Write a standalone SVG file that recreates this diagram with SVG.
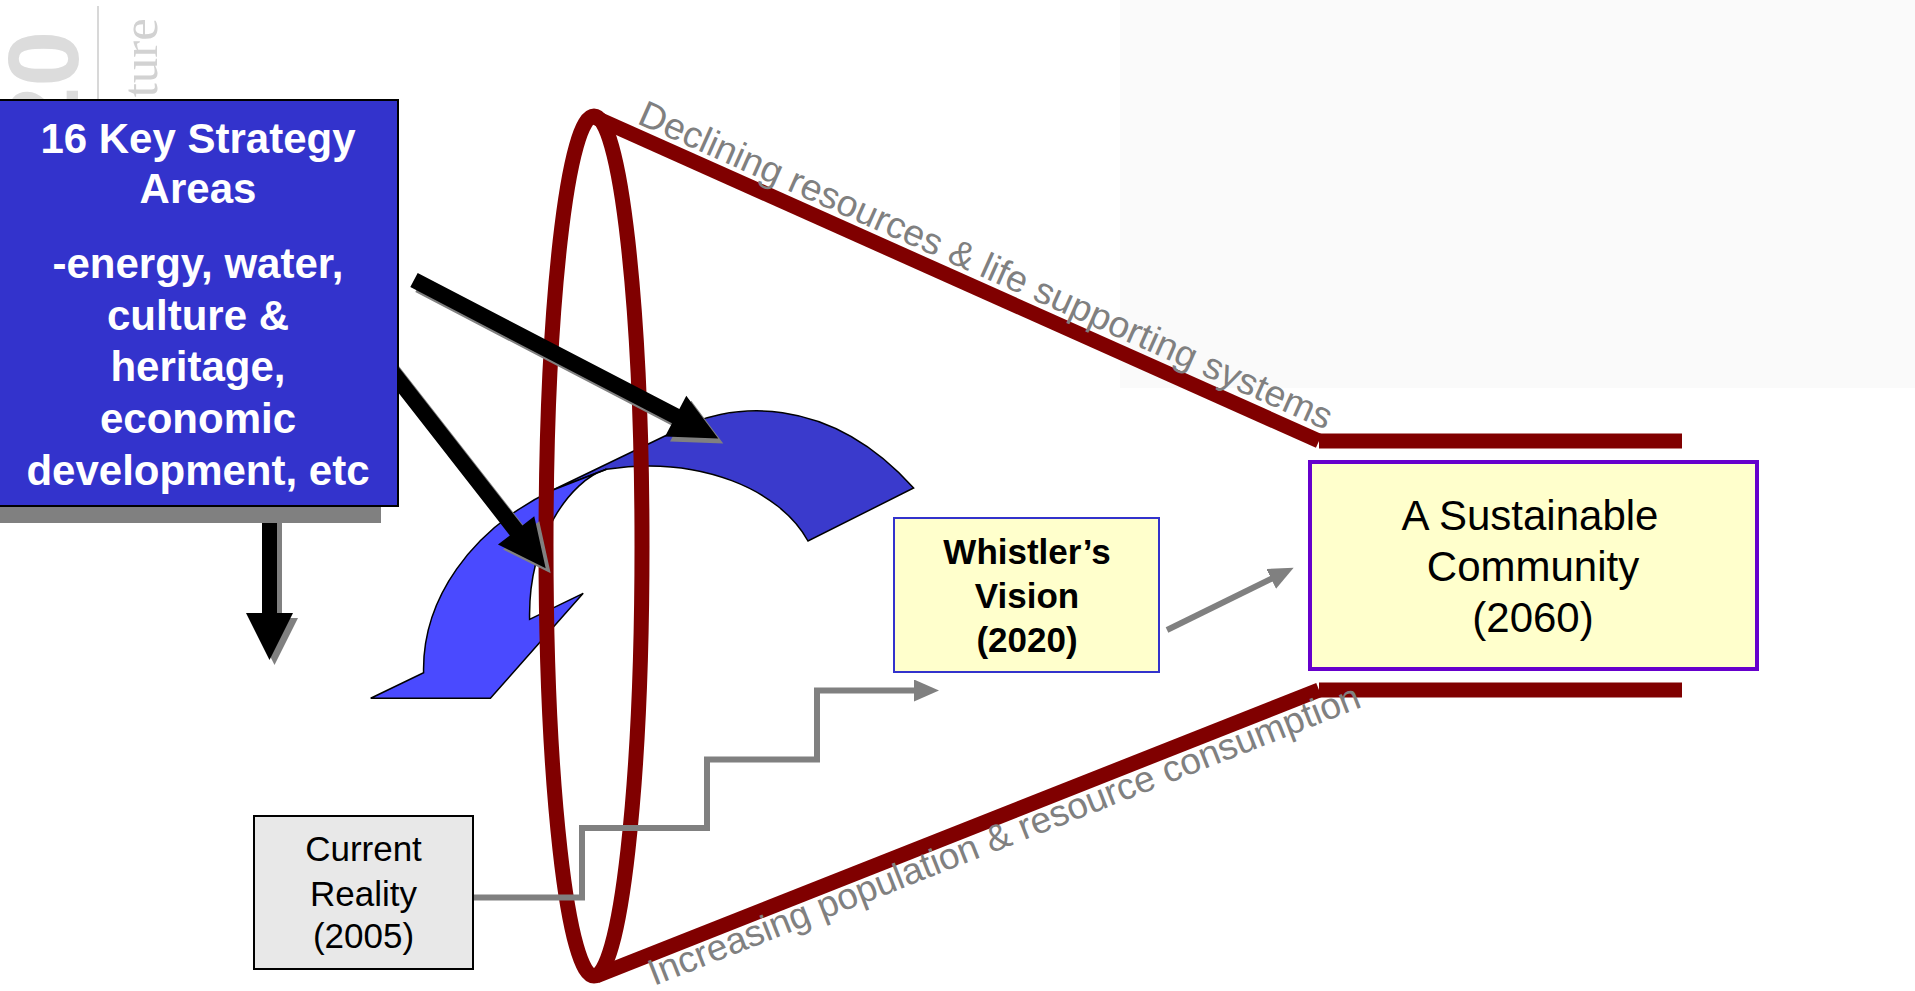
<svg xmlns="http://www.w3.org/2000/svg" width="1915" height="991" viewBox="0 0 1915 991">
<style>
.wm{font-family:"Liberation Sans",Arial,sans-serif;font-weight:bold;fill:#DCDCDC}
.wms{font-family:"Liberation Serif","Times New Roman",serif;fill:#D2D2D2}
.ring{fill:none;stroke:#800000;stroke-width:15}
.bar{fill:none;stroke:#800000;stroke-width:15;stroke-linecap:butt}
.lbl{font-family:"Liberation Sans",Arial,sans-serif;font-size:37px;fill:#808080}
.blk{fill:#000000}
.shd{fill:#808080}
.gray{fill:none;stroke:#808080;stroke-width:6;stroke-linejoin:miter}
.wt{font-family:"Liberation Sans",Arial,sans-serif;font-weight:bold;font-size:42px;fill:#FFFFFF;text-anchor:middle}
.vt{font-family:"Liberation Sans",Arial,sans-serif;font-weight:bold;font-size:35px;fill:#000000;text-anchor:middle}
.st{font-family:"Liberation Sans",Arial,sans-serif;font-size:42px;fill:#000000;text-anchor:middle}
.ct{font-family:"Liberation Sans",Arial,sans-serif;font-size:35px;fill:#000000;text-anchor:middle}
</style>
<defs>
<marker id="gh" markerUnits="userSpaceOnUse" markerWidth="26" markerHeight="24" refX="2" refY="11" orient="auto">
<path d="M0,0 L25,11 L0,22 Z" fill="#808080"/>
</marker>
</defs>
<rect x="0" y="0" width="1915" height="991" fill="#FFFFFF"/>
<rect x="1120" y="0" width="795" height="388" fill="#FAFAFA"/>

<g id="watermark">
<text class="wm" font-size="100" text-anchor="end" transform="translate(78,31) rotate(-90)">20</text>
<line x1="98" y1="6" x2="98" y2="100" stroke="#D8D8D8" stroke-width="2"/>
<text class="wms" font-size="51" text-anchor="end" transform="translate(157,18) rotate(-90)">ture</text>
</g>

<g id="cycle-arrow" stroke="#000000" stroke-width="1.5" stroke-linejoin="miter">
<path fill="#3A3ACC" d="M552.9,490 L667,435 C730,398 830,395 913.6,488 L808,541 C780,490 700,455 606.4,469.3 Z"/>
<path fill="#4A4AFF" d="M423.6,672.7 C422,600 470,530 552.9,490 L606.4,469.3 C570,480 528,540 529.6,619.3 L583.2,593.3 L490.4,698.3 L370.7,698.3 Z"/>
</g>

<g id="funnel">
<ellipse class="ring" cx="594" cy="546" rx="48" ry="430"/>
<path class="bar" d="M594,117 L1319,441"/>
<path class="bar" d="M1319,441 L1682,441"/>
<path class="bar" d="M596,976 L1319,690"/>
<path class="bar" d="M1319,690 L1682,690"/>
<text class="lbl" transform="translate(636,123) rotate(24)" textLength="755" lengthAdjust="spacingAndGlyphs">Declining resources &amp; life supporting systems</text>
<text class="lbl" transform="translate(654,986) rotate(-21.5)" textLength="762" lengthAdjust="spacingAndGlyphs">Increasing population &amp; resource consumption</text>
</g>

<g id="connectors">
<g id="arrow-to-cycle-top">
<polygon class="shd" transform="translate(419,285) rotate(27.5)" points="0,-8 295,-8 295,-23 343,0 295,23 295,8 0,8"/>
<polygon class="blk" transform="translate(414,280) rotate(27.5)" points="0,-8 295,-8 295,-23 343,0 295,23 295,8 0,8"/>
</g>
<g id="arrow-to-cycle-left">
<polygon class="shd" transform="translate(390.6,368.4) rotate(52)" points="0,-8 212,-8 212,-23 260,0 212,23 212,8 0,8"/>
<polygon class="blk" transform="translate(385.6,363.4) rotate(52)" points="0,-8 212,-8 212,-23 260,0 212,23 212,8 0,8"/>
</g>
<g id="arrow-down">
<polygon class="shd" transform="translate(274.5,510) rotate(90)" points="0,-7.5 108,-7.5 108,-23.5 155,0 108,23.5 108,7.5 0,7.5"/>
<polygon class="blk" transform="translate(269.5,505) rotate(90)" points="0,-7.5 108,-7.5 108,-23.5 155,0 108,23.5 108,7.5 0,7.5"/>
</g>
<polyline id="steps" class="gray" marker-end="url(#gh)" points="473,897.5 582,897.5 582,828 707,828 707,759.5 817,759.5 817,690.5 916,690.5"/>
<line id="vision-to-community" class="gray" marker-end="url(#gh)" x1="1167" y1="630" x2="1273" y2="578"/>
</g>

<g id="strategy-areas">
<rect x="-40" y="116" width="421" height="407" fill="#808080"/>
<rect x="-20" y="100" width="418" height="406" fill="#3333CC" stroke="#000000" stroke-width="2"/>
<text class="wt" x="198" y="153">16 Key Strategy</text>
<text class="wt" x="198" y="203">Areas</text>
<text class="wt" x="198" y="278">-energy, water,</text>
<text class="wt" x="198" y="330">culture &amp;</text>
<text class="wt" x="198" y="381">heritage,</text>
<text class="wt" x="198" y="433">economic</text>
<text class="wt" x="198" y="485">development, etc</text>
</g>

<g id="whistlers-vision">
<rect x="894" y="518" width="265" height="154" fill="#FFFFCC" stroke="#3333CC" stroke-width="2"/>
<text class="vt" x="1027" y="564">Whistler’s</text>
<text class="vt" x="1027" y="608">Vision</text>
<text class="vt" x="1027" y="652">(2020)</text>
</g>

<g id="sustainable-community">
<rect x="1310" y="462" width="447" height="207" fill="#FFFFCC" stroke="#6600CC" stroke-width="4"/>
<text class="st" x="1530" y="530">A Sustainable</text>
<text class="st" x="1533" y="581">Community</text>
<text class="st" x="1533" y="632">(2060)</text>
</g>

<g id="current-reality">
<rect x="254" y="816" width="219" height="153" fill="#E8E8E8" stroke="#000000" stroke-width="2"/>
<text class="ct" x="363.5" y="861">Current</text>
<text class="ct" x="363.5" y="906">Reality</text>
<text class="ct" x="363.5" y="948">(2005)</text>
</g>
</svg>
